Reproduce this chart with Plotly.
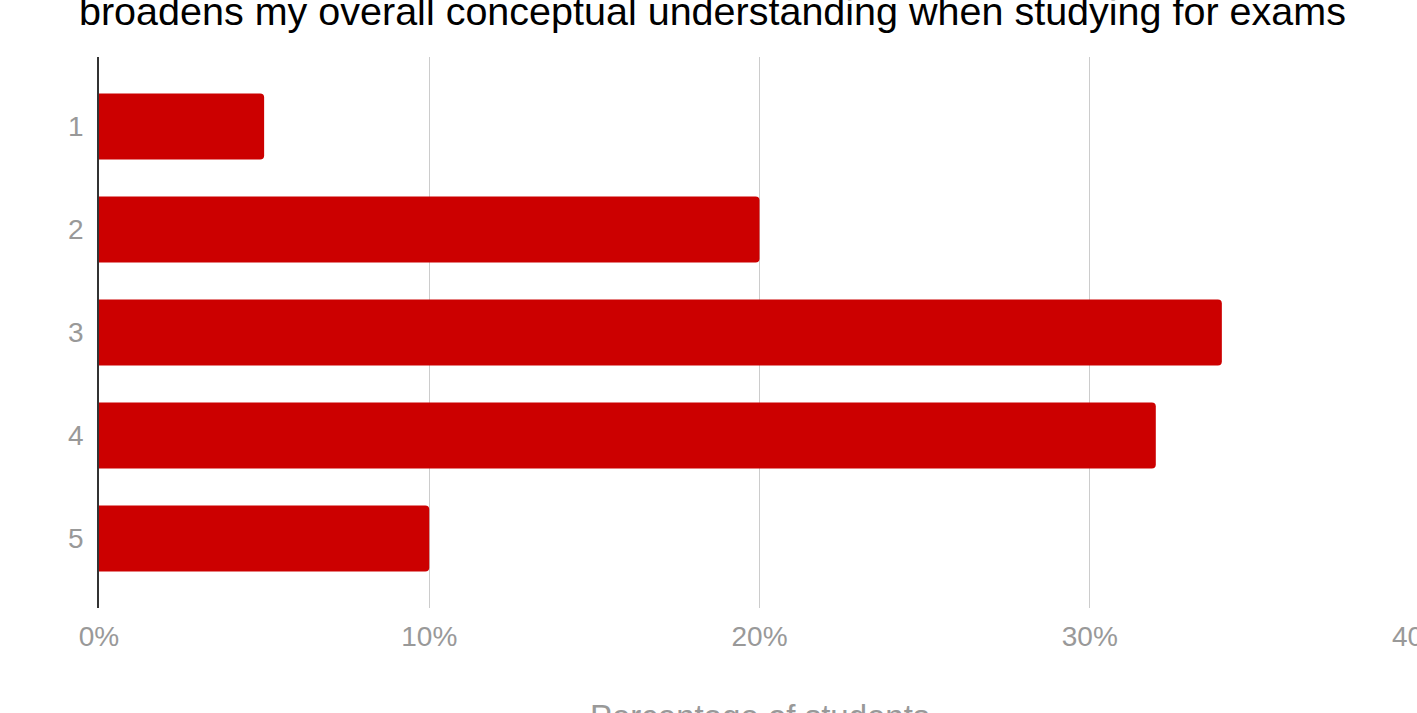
import plotly.graph_objects as go

categories = ["1", "2", "3", "4", "5"]
percentages = [5, 20, 34, 32, 10]
x_tick_values = [0, 10, 20, 30, 40]
x_tick_labels = ["0%", "10%", "20%", "30%", "40%"]
title_text = "broadens my overall conceptual understanding when studying for exams"
x_title_text = "Percentage of students"

FONT = "Liberation Sans, Arial, sans-serif"

fig = go.Figure(
    go.Bar(
        x=percentages,
        y=categories,
        orientation="h",
        marker=dict(color="#cc0000", line=dict(width=0)),
        width=0.64,
        hoverinfo="skip",
    )
)

fig.update_layout(
    width=1460,
    height=713,
    margin=dict(l=99, r=36, t=57, b=105),
    paper_bgcolor="white",
    plot_bgcolor="white",
    showlegend=False,
    barcornerradius=4,
    font=dict(family=FONT, color="#999999"),
    annotations=[
        dict(
            text=title_text,
            xref="paper", yref="paper",
            x=0.4645, y=1,
            xanchor="center", yanchor="bottom",
            yshift=22,
            showarrow=False,
            font=dict(family=FONT, size=39.5, color="#000000"),
        ),
        dict(
            text=x_title_text,
            xref="paper", yref="paper",
            x=0.5, y=0,
            xanchor="center", yanchor="top",
            yshift=-88,
            showarrow=False,
            font=dict(family=FONT, size=33, color="#999999"),
        ),
    ],
)

fig.update_xaxes(
    range=[0, 40],
    tickvals=x_tick_values,
    ticktext=x_tick_labels,
    showgrid=True,
    gridcolor="#cccccc",
    gridwidth=1,
    zeroline=False,
    showline=False,
    ticks="",
    ticklabelstandoff=9,
    tickfont=dict(family=FONT, size=28, color="#999999"),
    fixedrange=True,
)

fig.update_yaxes(
    type="category",
    categoryorder="array",
    categoryarray=categories,
    range=[4.675, -0.675],
    showgrid=False,
    zeroline=False,
    showline=True,
    linecolor="#333333",
    linewidth=1.5,
    ticks="",
    ticklabelstandoff=8,
    tickfont=dict(family=FONT, size=28, color="#999999"),
    fixedrange=True,
)

fig.write_html("out.html")
